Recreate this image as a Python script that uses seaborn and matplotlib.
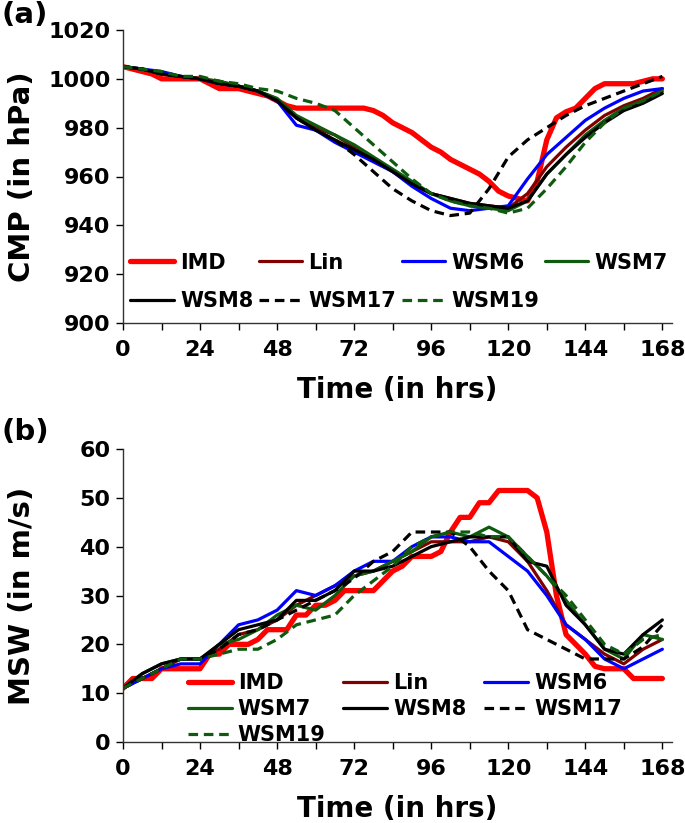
import matplotlib
matplotlib.use("Agg")
import matplotlib.pyplot as plt
from matplotlib.ticker import MultipleLocator
import numpy as np
import pandas as pd
import seaborn as sns

# ---------------------------------------------------------------------------
# Data
# ---------------------------------------------------------------------------
HOURS_3 = list(range(0, 169, 3))
HOURS_6 = list(range(0, 169, 6))

# (a) central minimum pressure, hPa
IMD_CMP = [1005, 1004, 1003, 1002, 1000, 1000, 1000, 1000, 1000, 998,
           996, 996, 996, 995, 994, 993, 991, 989, 988, 988,
           988, 988, 988, 988, 988, 988, 987, 985, 982, 980,
           978, 975, 972, 970, 967, 965, 963, 961, 958, 954,
           952, 951, 950, 958, 975, 984, 986.5, 988, 992, 996,
           998, 998, 998, 998, 999, 1000, 1000]
LIN_CMP = [1005, 1004, 1002, 1001, 1000, 999, 997, 995, 991, 984, 980, 977, 972, 967, 962,
           957, 953, 951, 949, 948, 947, 953, 964, 972, 979, 985, 989, 992, 996]
WSM6_CMP = [1005, 1004, 1003, 1001, 1000, 998, 997, 995, 991, 981, 979, 974, 970, 966, 962,
            956, 951, 947, 946, 947, 948, 959, 969, 976, 983, 988, 992, 995, 996]
WSM7_CMP = [1005, 1004, 1002, 1001, 1000, 999, 997, 995, 992, 985, 981, 977, 973, 968, 963,
            958, 953, 950, 948, 947, 946, 950, 961, 969, 977, 983, 988, 991, 995]
WSM8_CMP = [1005, 1004, 1002, 1001, 1000, 998, 997, 995, 991, 984, 979, 975, 971, 967, 962,
            957, 953, 951, 949, 948, 947, 950, 961, 969, 976, 982, 987, 990, 994]
WSM17_CMP = [1005, 1004, 1002, 1001, 1000, 998, 997, 995, 991, 984, 979, 975, 969, 962, 955,
             950, 946, 944, 945, 955, 968, 975, 980, 985, 989, 992, 995, 998, 1001]
WSM19_CMP = [1005, 1004, 1003, 1001, 1001, 999, 998, 996, 995, 992, 990, 987, 980, 973, 966,
             959, 953, 950, 948, 947, 945, 947, 955, 964, 974, 982, 988, 991, 995]

# (b) maximum sustained wind, m/s
IMD_MSW = [11, 13, 13, 13, 15, 15, 15, 15, 15, 18,
           18, 20, 20, 20, 21, 23, 23, 23, 26, 26,
           28, 28, 29, 31, 31, 31, 31, 33, 35, 36,
           38, 38, 38, 39, 43, 46, 46, 49, 49, 51.5,
           51.5, 51.5, 51.5, 50, 43, 30, 22, 20, 18, 15.5,
           15, 15, 15, 13, 13, 13, 13]
LIN_MSW = [11, 13, 15, 17, 17, 19, 22, 23, 25, 28, 30, 32, 34, 35, 37,
           39, 41, 41, 41, 42, 41, 37, 31, 24, 21, 18, 16, 19, 21]
WSM6_MSW = [11, 13, 15, 16, 16, 20, 24, 25, 27, 31, 30, 32, 35, 37, 37,
            40, 42, 42, 41, 41, 38, 35, 30, 24, 21, 17, 15, 17, 19]
WSM7_MSW = [11, 14, 16, 17, 17, 20, 21, 23, 26, 28, 27, 30, 34, 35, 37,
            39, 42, 43, 42, 44, 42, 38, 34, 29, 24, 19, 17, 22, 21]
WSM8_MSW = [11, 14, 16, 17, 17, 20, 23, 24, 25, 29, 29, 31, 35, 35, 36,
            38, 40, 41, 42, 42, 42, 37, 36, 28, 24, 19, 18, 22, 25]
WSM17_MSW = [11, 13, 15, 17, 17, 19, 22, 23, 25, 27, 29, 31, 33.5, 37, 39,
             43, 43, 43, 40, 35, 31, 23, 21, 19, 17, 17, 17, 19.5, 24]
WSM19_MSW = [11, 13, 15, 17, 17, 18, 19, 19, 21, 24, 25, 26, 30, 33, 36,
             40, 42, 43, 43, 42, 42, 38, 34, 30, 25, 20, 18, 21, 22]

NAMES = ["IMD", "Lin", "WSM6", "WSM7", "WSM8", "WSM17", "WSM19"]
COLORS = {"IMD": "#ff0000", "Lin": "#800000", "WSM6": "#0000ff",
          "WSM7": "#0f5a0f", "WSM8": "#000000", "WSM17": "#000000",
          "WSM19": "#0f5a0f"}
DASHED = {"WSM17", "WSM19"}

# ---------------------------------------------------------------------------
# Style
# ---------------------------------------------------------------------------
sns.set_style("ticks")
plt.rcParams.update({
    "font.family": ["DejaVu Sans"],
    "font.weight": "bold",
    "axes.labelweight": "bold",
    "text.color": "black",
    "axes.labelcolor": "black",
    "xtick.color": "black",
    "ytick.color": "black",
})

W, H = 685, 823
fig = plt.figure(figsize=(W / 100, H / 100), dpi=100)
ax_a = fig.add_axes([123 / W, 1 - 323 / H, 549 / W, 293 / H])
ax_b = fig.add_axes([123 / W, 1 - 742 / H, 549 / W, 293 / H])


def draw_panel(ax, series, ylabel, ylim, ystep):
    for name in NAMES:
        hours, vals = series[name]
        sns.lineplot(x=hours, y=vals, ax=ax, color=COLORS[name],
                     lw=3.8 if name == "IMD" else 2.3)
        line = ax.lines[-1]
        line.set_label(name)
        if name in DASHED:
            line.set_dashes((3, 1.8))
    ax.set_xlim(0, 171)
    ax.set_ylim(*ylim)
    ax.xaxis.set_major_locator(MultipleLocator(24))
    ax.xaxis.set_minor_locator(MultipleLocator(12))
    ax.yaxis.set_major_locator(MultipleLocator(ystep))
    ax.tick_params(axis="both", which="both", direction="out", length=5,
                   width=1, color="black")
    ax.tick_params(axis="x", labelsize=16, pad=7)
    ax.tick_params(axis="y", labelsize=16, pad=4)
    for s in ("left", "bottom"):
        ax.spines[s].set_color("#333333")
        ax.spines[s].set_linewidth(1)
    sns.despine(ax=ax)
    ax.set_xlabel("Time (in hrs)", fontsize=20)
    ax.set_ylabel(ylabel, fontsize=21)
    ax.xaxis.set_label_coords(0.5, -0.18)
    ax.yaxis.set_label_coords(-0.158, 0.5)


cmp_series = {"IMD": (HOURS_3, IMD_CMP), "Lin": (HOURS_6, LIN_CMP),
              "WSM6": (HOURS_6, WSM6_CMP), "WSM7": (HOURS_6, WSM7_CMP),
              "WSM8": (HOURS_6, WSM8_CMP), "WSM17": (HOURS_6, WSM17_CMP),
              "WSM19": (HOURS_6, WSM19_CMP)}
msw_series = {"IMD": (HOURS_3, IMD_MSW), "Lin": (HOURS_6, LIN_MSW),
              "WSM6": (HOURS_6, WSM6_MSW), "WSM7": (HOURS_6, WSM7_MSW),
              "WSM8": (HOURS_6, WSM8_MSW), "WSM17": (HOURS_6, WSM17_MSW),
              "WSM19": (HOURS_6, WSM19_MSW)}

draw_panel(ax_a, cmp_series, "CMP (in hPa)", (900, 1020), 20)
draw_panel(ax_b, msw_series, "MSW (in m/s)", (0, 60), 10)


# legends: matplotlib fills column-first, so reorder for row-wise reading
def add_legend(ax, order, ncol, anchor, labelspacing, colspacing):
    hl = dict(zip(*ax.get_legend_handles_labels()[::-1]))
    handles = [hl[n] for n in order]
    ax.legend(handles, order, ncol=ncol, loc="lower left",
              bbox_to_anchor=anchor, frameon=False, fontsize=15,
              handlelength=2.1, handletextpad=0.3, columnspacing=colspacing,
              labelspacing=labelspacing, borderaxespad=0, borderpad=0)


add_legend(ax_a, ["IMD", "WSM8", "Lin", "WSM17", "WSM6", "WSM19", "WSM7"],
           4, (0.013, 0.04), 0.9, 0.25)
add_legend(ax_b, ["IMD", "WSM7", "WSM19", "Lin", "WSM8", "WSM6", "WSM17"],
           3, (0.118, -0.01), 0.28, 0.85)

fig.text(2 / W, 1 - 15 / H, "(a)", fontsize=21, fontweight="bold",
         ha="left", va="center")
fig.text(2 / W, 1 - 432 / H, "(b)", fontsize=21, fontweight="bold",
         ha="left", va="center")

fig.savefig("out.png", dpi=100)
